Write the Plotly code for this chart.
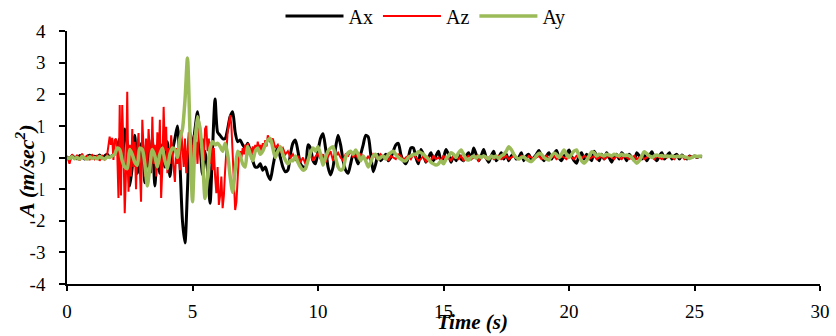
import numpy as np
import plotly.graph_objects as go

# time axis for Ax / Ay (0.0 .. 25.3 s, step 0.1)
t_xy = np.round(np.arange(0, 254) * 0.1, 2)

ax_vals = [
    0.02, -0.03, 0.05, 0.00, -0.04, 0.06, 0.02, -0.05, 0.03, 0.07,
    -0.02, 0.04, 0.00, 0.08, -0.03, 0.05, 0.10, 0.02, 0.06, 0.12,
    0.30, 0.60, -0.20, 0.90, 0.40, -0.90, -0.30, 0.70, -0.50, 0.20,
    0.50, -0.80, 0.30, -0.40, 0.60, -0.90, 0.20, -0.50, 0.40, -0.30,
    0.50, -0.60, 0.20, 0.60, 1.00, -0.20, -2.00, -2.70, -1.00, 0.80,
    0.30, 0.90, 1.45, 0.40, -0.55, 0.20, -0.40, -1.45, 0.30, 1.85,
    0.80, 0.70, 0.60, 0.60, 0.90, 1.30, 1.45, 0.80, 0.50, 0.55,
    0.40, 0.30, 0.45, 0.20, -0.10, -0.30, -0.30, -0.20, -0.40, -0.30,
    -0.55, -0.70, -0.30, 0.10, 0.30, 0.00, -0.30, -0.45, -0.40, 0.10,
    0.45, 0.55, 0.20, -0.20, -0.30, -0.35, 0.40, 0.30, -0.10, -0.20,
    0.20, 0.60, 0.75, 0.30, -0.30, -0.55, -0.30, 0.30, 0.70, 0.40,
    -0.10, -0.40, -0.50, -0.20, 0.10, 0.00, -0.20, 0.10, 0.40, 0.70,
    0.65, 0.10, -0.45, -0.20, 0.10, -0.10, 0.00, 0.10, -0.10, 0.00,
    0.20, 0.40, 0.45, 0.10, -0.10, -0.20, 0.00, 0.30, 0.30, 0.00,
    -0.20, 0.25, 0.10, -0.15, 0.00, 0.15, -0.10, 0.05, 0.20, -0.10,
    0.00, 0.25, 0.10, -0.15, 0.05, -0.10, 0.10, -0.05, -0.10, 0.05,
    0.15, -0.05, 0.30, 0.10, -0.10, 0.05, 0.25, 0.00, -0.15, 0.05,
    0.20, -0.10, 0.00, 0.15, -0.05, 0.10, -0.10, 0.05, 0.10, -0.05,
    0.00, 0.15, -0.10, 0.05, 0.10, -0.05, 0.00, 0.10, 0.22, 0.05,
    -0.10, 0.05, 0.15, -0.05, 0.10, 0.22, 0.00, -0.10, 0.05, 0.10,
    0.24, 0.05, -0.10, -0.18, 0.05, 0.15, -0.05, 0.10, 0.00, -0.10,
    0.20, 0.05, -0.10, 0.10, -0.05, 0.15, 0.00, -0.15, 0.05, 0.10,
    -0.05, 0.15, 0.05, -0.10, 0.10, 0.00, -0.10, 0.15, 0.05, -0.05,
    0.10, -0.10, 0.05, 0.18, 0.00, -0.10, 0.05, 0.15, -0.05, 0.05,
    0.15, -0.05, 0.05, 0.10, -0.05, 0.08, 0.00, -0.05, 0.05, 0.00,
    0.05, 0.00, 0.03, 0.02,
]

ay_vals = [
    0.00, -0.03, 0.02, -0.04, 0.00, -0.05, 0.03, -0.02, -0.05, 0.02,
    -0.03, 0.00, -0.04, 0.03, -0.02, -0.05, 0.02, 0.00, 0.05, 0.10,
    0.30, 0.25, -0.10, -0.30, -0.35, 0.25, 0.10, -0.15, -0.25, 0.30,
    0.25, -0.20, -0.90, -0.30, 0.25, 0.05, -0.30, 0.10, 0.30, -0.10,
    -0.35, 0.10, 0.30, 0.25, 0.00, 0.60, 0.90, 1.80, 3.15, 0.80,
    -1.40, 0.50, 1.30, 0.90, 0.00, -1.30, -0.60, 0.30, 0.50, 0.40,
    0.45, 0.35, 0.20, 0.45, 0.10, -0.60, -1.10, -0.40, 0.20, 0.05,
    -0.20, -0.30, 0.35, 0.10, -0.10, 0.20, 0.30, 0.10, 0.20, 0.40,
    0.55, 0.60, 0.30, 0.00, 0.20, 0.34, 0.10, -0.08, -0.20, -0.10,
    -0.10, 0.05, -0.15, -0.30, -0.40, -0.35, -0.10, 0.15, 0.30, 0.20,
    0.34, 0.10, -0.24, 0.00, 0.20, 0.30, 0.34, 0.00, -0.30, -0.40,
    -0.35, 0.00, 0.15, 0.20, 0.10, 0.24, 0.10, -0.10, 0.05, -0.10,
    -0.30, -0.15, 0.05, 0.10, -0.05, 0.00, 0.05, -0.05, 0.10, 0.15,
    0.20, 0.10, 0.00, -0.05, -0.10, -0.10, 0.00, 0.05, 0.10, 0.10,
    0.18, 0.15, 0.10, 0.02, -0.05, -0.15, -0.20, -0.24, -0.20, -0.10,
    -0.20, -0.05, 0.05, 0.15, 0.10, 0.00, 0.15, 0.24, 0.10, -0.05,
    -0.08, 0.00, 0.05, -0.02, 0.05, 0.00, 0.05, 0.00, -0.05, 0.05,
    0.00, 0.05, -0.03, 0.05, 0.10, 0.20, 0.34, 0.25, 0.10, 0.00,
    -0.05, 0.00, 0.02, -0.05, -0.10, -0.13, -0.05, 0.05, 0.13, 0.10,
    0.00, -0.05, -0.08, 0.05, 0.13, 0.10, 0.00, 0.10, 0.24, 0.10,
    0.00, 0.10, 0.20, 0.24, 0.05, -0.10, -0.18, -0.10, 0.05, 0.18,
    0.15, 0.05, 0.10, 0.08, 0.05, 0.10, 0.08, 0.05, 0.10, 0.08,
    0.05, 0.10, 0.06, 0.08, 0.05, 0.00, -0.10, -0.18, -0.10, 0.05,
    0.18, 0.12, 0.05, 0.00, 0.05, 0.08, 0.05, 0.06, 0.03, 0.05,
    0.03, 0.05, 0.02, 0.04, 0.03, 0.05, 0.02, 0.00, -0.03, 0.00,
    0.05, 0.03, 0.04, 0.05,
]

# time axis for Az: 0.1 s steps, finer 0.05 s steps during the strong motion
t_z = np.round(np.concatenate([
    np.arange(0, 17) * 0.1,
    np.arange(34, 160) * 0.05,
    np.arange(80, 254) * 0.1,
]), 2)

az_vals = [
    0.05, -0.20, 0.10, -0.05, 0.08, -0.10, 0.12, -0.03, 0.06, -0.08,
    0.10, -0.05, 0.07, -0.10, 0.05, -0.06, 0.08,
    # 1.70 .. 7.95 (0.05 s)
    0.66, 0.40, 0.62, -0.08, 0.55, 0.60, 0.20, -1.28, 1.66, -1.20,
    1.66, 0.30, -1.76, -0.50, 2.08, -1.08, 0.40, -0.60, 0.90, -0.30,
    0.50, -1.00, 0.30, 0.77, -0.20, -1.40, 1.19, 0.20, -0.60, 0.60,
    -0.30, 0.90, 0.10, -0.50, 1.29, -0.20, 0.40, -0.60, 0.80, -0.20,
    1.19, -1.28, -0.30, 1.60, 0.20, 0.97, -0.50, 0.30, -0.20, 0.70,
    0.10, -0.40, -0.77, 0.30, -0.20, 0.50, -0.40, 0.87, 0.20, -0.30,
    0.60, -0.50, 0.20, 0.80, -0.30, 0.40, -0.20, 0.70, 0.10, 0.50,
    -0.20, 0.80, 1.03, 0.30, 0.60, -0.10, 0.90, 1.00, 0.20, 0.60,
    -0.20, 0.50, -0.40, 0.30, -0.60, -1.13, -0.30, -1.50, -1.20, -0.60,
    -1.60, -1.20, -0.40, 0.30, 0.80, 1.10, 1.34, 1.00, 0.20, -0.80,
    -1.66, -1.40, -0.60, 0.08, 0.20, 0.00, 0.30, 0.10, 0.40, 0.20,
    0.45, 0.20, 0.30, 0.10, 0.35, 0.15, 0.40, 0.20, 0.50, 0.25,
    0.40, 0.20, 0.45, 0.30, 0.55, 0.35,
    # 8.0 .. 25.3 (0.1 s)
    0.70, 0.50, 0.60, 0.30, 0.40, 0.20, 0.30, 0.10, 0.20, 0.00,
    0.10, -0.10, 0.05, -0.15, 0.00, -0.20, -0.05, 0.10, -0.10, 0.05,
    0.15, -0.05, 0.10, -0.15, 0.05, 0.20, -0.10, 0.05, 0.15, 0.00,
    -0.10, 0.10, 0.05, 0.20, 0.00, 0.15, -0.05, 0.10, 0.05, -0.10,
    0.05, -0.10, 0.10, 0.00, -0.05, 0.10, 0.00, 0.05, -0.10, 0.05,
    0.00, -0.05, 0.10, 0.05, -0.10, 0.00, 0.05, -0.05, 0.10, 0.00,
    -0.10, -0.05, 0.05, -0.15, 0.00, -0.10, 0.05, -0.05, 0.00, -0.10,
    0.05, -0.05, 0.00, -0.10, 0.05, 0.00, -0.05, 0.05, -0.10, 0.00,
    0.05, -0.05, 0.00, 0.05, -0.10, 0.00, 0.05, -0.05, 0.00, 0.05,
    -0.05, 0.00, 0.05, -0.05, 0.00, 0.05, -0.05, 0.00, 0.05, 0.00,
    -0.05, 0.05, 0.00, -0.05, 0.05, 0.00, -0.05, 0.00, 0.05, -0.05,
    0.00, 0.05, -0.05, 0.00, 0.05, -0.05, 0.00, 0.05, 0.00, -0.05,
    0.05, 0.00, -0.05, 0.05, 0.00, -0.05, 0.05, 0.00, -0.05, 0.00,
    0.05, -0.05, 0.00, 0.05, -0.05, 0.00, 0.05, 0.00, -0.05, 0.05,
    0.00, -0.05, 0.05, 0.00, -0.05, 0.00, 0.05, -0.05, 0.00, 0.05,
    -0.05, 0.00, 0.05, 0.00, -0.05, 0.05, 0.00, -0.05, 0.05, 0.00,
    0.05, 0.00, -0.05, 0.05, 0.00, 0.05, -0.05, 0.00, 0.05, 0.00,
    0.05, 0.00, 0.05, 0.05,
]

x_ticks = [0, 5, 10, 15, 20, 25, 30]
y_ticks = [4, 3, 2, 1, 0, -1, -2, -3, -4]
y_ticktext = ["4", "3", "2", "1", "0", "-1", "-2", "-3", "-4"]

FONT = "Liberation Serif"

fig = go.Figure()
fig.add_trace(go.Scatter(x=t_xy, y=ax_vals, name="Ax", mode="lines",
                         line=dict(color="#000000", width=3, shape="spline", smoothing=0.7)))
fig.add_trace(go.Scatter(x=t_z, y=az_vals, name="Az", mode="lines",
                         line=dict(color="#FF0000", width=2)))
fig.add_trace(go.Scatter(x=t_xy, y=ay_vals, name="Ay", mode="lines",
                         line=dict(color="#9BBB59", width=3.5, shape="spline", smoothing=0.7)))

fig.update_layout(
    width=836, height=336,
    margin=dict(l=67, r=16, t=31, b=52, autoexpand=False),
    paper_bgcolor="white", plot_bgcolor="white",
    font=dict(family=FONT, size=19, color="black"),
    showlegend=True,
    legend=dict(orientation="h", x=0.5 - 18 / 753, xanchor="center",
                y=(284 - 16) / 253, yanchor="middle",
                font=dict(family=FONT, size=20, color="black"),
                bgcolor="rgba(0,0,0,0)", itemwidth=58, tracegroupgap=0),
    xaxis=dict(range=[0, 30], tickvals=x_ticks, showgrid=False, zeroline=False,
               showline=True, linecolor="black", linewidth=1.5,
               ticks="outside", ticklen=5, tickwidth=1.5, tickcolor="black",
               tickfont=dict(family=FONT, size=19), ticklabelstandoff=4),
    yaxis=dict(range=[-4, 4], tickvals=y_ticks, ticktext=y_ticktext, showgrid=False,
               zeroline=False, showline=True, linecolor="black", linewidth=1.5,
               ticks="outside", ticklen=6, tickwidth=1.5, tickcolor="black",
               tickfont=dict(family=FONT, size=19), ticklabelstandoff=10),
    annotations=[
        dict(text="<b><i>Time (s)</i></b>", xref="paper", yref="paper",
             x=(472 - 67) / 753, y=-(322 - 284) / 253, xanchor="center", yanchor="middle",
             showarrow=False, font=dict(family=FONT, size=21, color="black")),
        dict(text="<b><i>A (m/sec<sup>2</sup>)</i></b>", xref="paper", yref="paper",
             x=-(67 - 25) / 753, y=(284 - 172) / 253, xanchor="center", yanchor="middle",
             textangle=-90, showarrow=False, bgcolor="white",
             font=dict(family=FONT, size=22, color="black")),
    ],
)

fig.write_html("out.html")
